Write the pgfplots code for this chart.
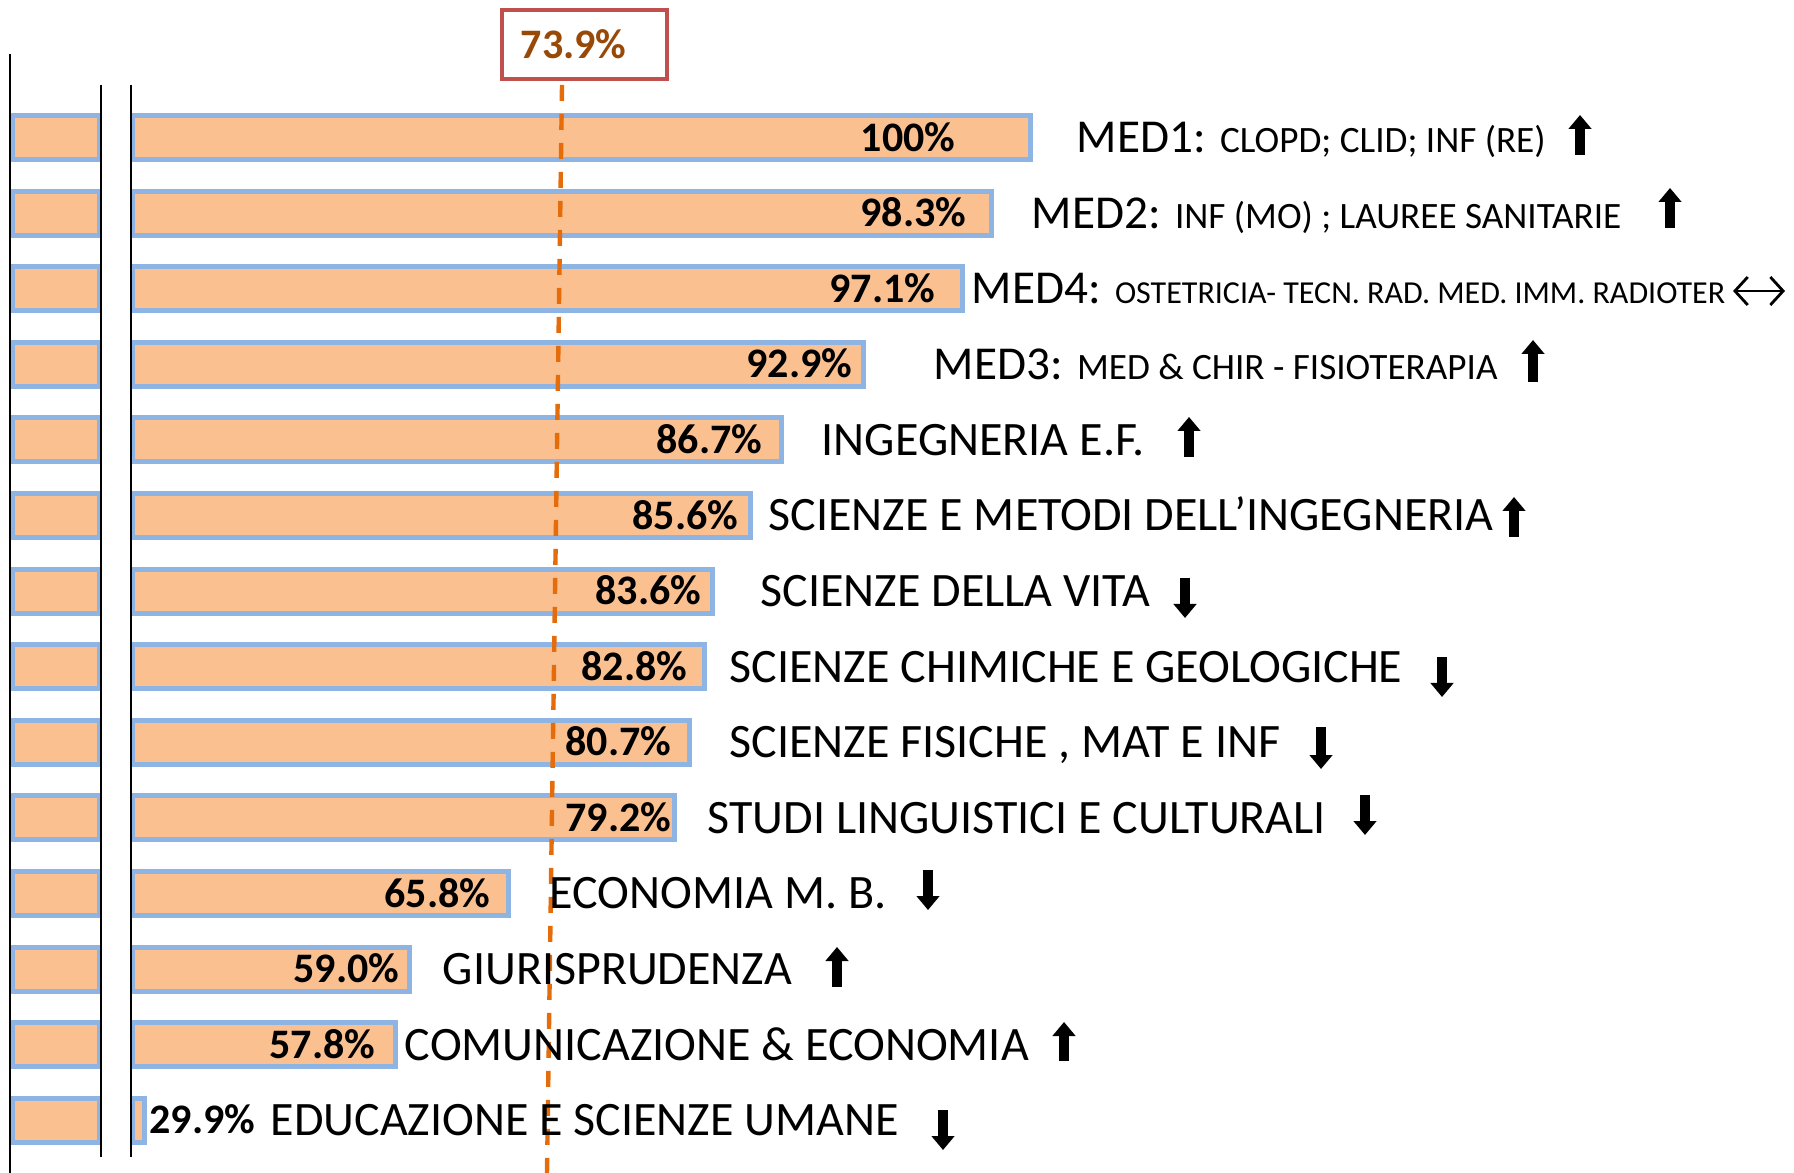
\documentclass[border=0pt]{standalone}
\usepackage{pgfplots}
\pgfplotsset{compat=1.18}
\usepackage{pgfplotstable}
\usepackage{fontspec}
\setmainfont{Carlito}
\usetikzlibrary{arrows.meta}

\definecolor{barfill}{RGB}{250,192,144}
\definecolor{barline}{RGB}{142,180,227}
\definecolor{dashorange}{RGB}{228,108,10}
\definecolor{boxred}{RGB}{192,80,77}
\definecolor{labelbrown}{RGB}{152,72,7}

% y = bar centre, end = outer end of the bar, lab = right edge of the value label
\pgfplotstableread{
y end lab pct
137.5 1033 956 100
213.1 994 967 98.3
288.7 965 936 97.1
364.3 866 853 92.9
439.9 784 763 86.7
515.5 753 739 85.6
591.1 715 702 83.6
666.7 707 688 82.8
742.3 692 672 80.7
817.9 677 672 79.2
893.5 511 491 65.8
969.1 412 400 59.0
1044.7 398 376 57.8
1120.3 147 256 29.9
}\bars

% trend arrows: foot (x,y) and signed length v (negative = up)
\pgfplotstableread{
x y v
1580 155 -40
1670 228 -40
1533 382 -42
1189 457 -40
1514 537 -40
1185 578 40
1442 657 40
1321 727 42
1365 795 40
928 870 40
837 987 -40
1064 1061 -39
943 1110 40
}\trend

\pgfplotsset{
  base/.style={
    width=448.5pt, height=293.25pt, scale only axis,
    xmin=0, xmax=1794, ymin=0, ymax=1173, y dir=reverse,
    enlargelimits=false, hide axis, clip=false,
  },
}
\tikzset{
  cat/.style={font=\fontsize{12}{13}\selectfont, anchor=base west, inner sep=0pt, yshift=-3.85pt},
  med/.style={font=\fontsize{11.8}{13}\selectfont, anchor=base west, inner sep=0pt, yshift=-3.8pt},
}
\newcommand{\medsmall}{\fontsize{9.3}{10}\selectfont}
\newcommand{\medtiny}{\fontsize{8}{9}\selectfont}

\begin{document}
\begin{tikzpicture}
\begin{axis}[base, xbar stacked, bar width=11pt]
  \addplot[draw=none, fill=none] table[x expr=12, y=y] {\bars};
  \addplot[fill=barfill, draw=barline, line width=1.25pt] table[x expr=87, y=y] {\bars};
  \addplot[draw=none, fill=none] table[x expr=33, y=y] {\bars};
  \addplot[fill=barfill, draw=barline, line width=1.25pt] table[x expr=\thisrow{end}-134.5, y=y] {\bars};
\end{axis}
\begin{axis}[base]
  \coordinate (cornerA) at (rel axis cs:0,0);
  \coordinate (cornerB) at (rel axis cs:1,1);
  % axis-break lines
  \addplot[black, line width=0.5pt] coordinates {(10,54) (10,1173)};
  \addplot[black, line width=0.5pt] coordinates {(101,85) (101,1157)};
  \addplot[black, line width=0.5pt] coordinates {(131,85) (131,1157)};
  % average line
  \addplot[dashorange, line width=1.1pt, dash pattern=on 4pt off 3.25pt] coordinates {(562,85) (547,1173)};
  % value labels
  \addplot[draw=none, point meta=explicit symbolic,
    nodes near coords={\pgfplotspointmeta\%},
    every node near coord/.append style={anchor=base east, inner sep=0pt, yshift=-3.4pt,
      font=\bfseries\fontsize{10.5}{12}\selectfont, text=black}]
    table[x=lab, y=y, meta=pct] {\bars};
  % trend arrows
  \addplot[black, line width=2.3pt, -{Triangle[width=5.6pt,length=3.5pt]},
    quiver={u=0, v=\thisrow{v}}] table[x=x, y=y] {\trend};
  \addplot[black, line width=0.7pt,
    {Straight Barb[length=3.2pt,width=7pt]}-{Straight Barb[length=3.2pt,width=7pt]},
    quiver={u=52, v=0}] coordinates {(1733,291)};
  % category labels
  \node[med] at (axis cs:1076,137.5) {MED1: {\medsmall CLOPD; CLID; INF (RE)}};
  \node[med] at (axis cs:1031,213.1) {MED2: {\medsmall INF (MO) ; LAUREE SANITARIE}};
  \node[med] at (axis cs:971,288.7) {MED4: {\medtiny OSTETRICIA- TECN. RAD. MED. IMM. RADIOTER}};
  \node[med] at (axis cs:933,364.3) {MED3: {\medsmall MED \& CHIR - FISIOTERAPIA}};
  \node[cat] at (axis cs:821,439.9) {INGEGNERIA E.F.};
  \node[cat] at (axis cs:768,515.5) {SCIENZE E METODI DELL’INGEGNERIA};
  \node[cat] at (axis cs:760,591.1) {SCIENZE DELLA VITA};
  \node[cat] at (axis cs:729,666.7) {SCIENZE CHIMICHE E GEOLOGICHE};
  \node[cat] at (axis cs:729,742.3) {SCIENZE FISICHE , MAT E INF};
  \node[cat] at (axis cs:707,817.9) {STUDI LINGUISTICI E CULTURALI};
  \node[cat] at (axis cs:549,893.5) {ECONOMIA M. B.};
  \node[cat] at (axis cs:442,969.1) {GIURISPRUDENZA};
  \node[cat] at (axis cs:404,1044.7) {COMUNICAZIONE \& ECONOMIA};
  \node[cat] at (axis cs:270,1120.3) {EDUCAZIONE E SCIENZE UMANE};
  % average box
  \node[draw=boxred, line width=1.1pt, minimum width=41.25pt, minimum height=17.25pt, inner sep=0pt]
    at (axis cs:584.5,44.5) {};
  \node[anchor=base west, inner sep=0pt, yshift=-3.4pt, font=\bfseries\fontsize{10.5}{12}\selectfont,
    text=labelbrown] at (axis cs:520,45) {73.9\%};
\end{axis}
\pgfresetboundingbox
\path[use as bounding box] (cornerA) rectangle (cornerB);
\end{tikzpicture}
\end{document}
